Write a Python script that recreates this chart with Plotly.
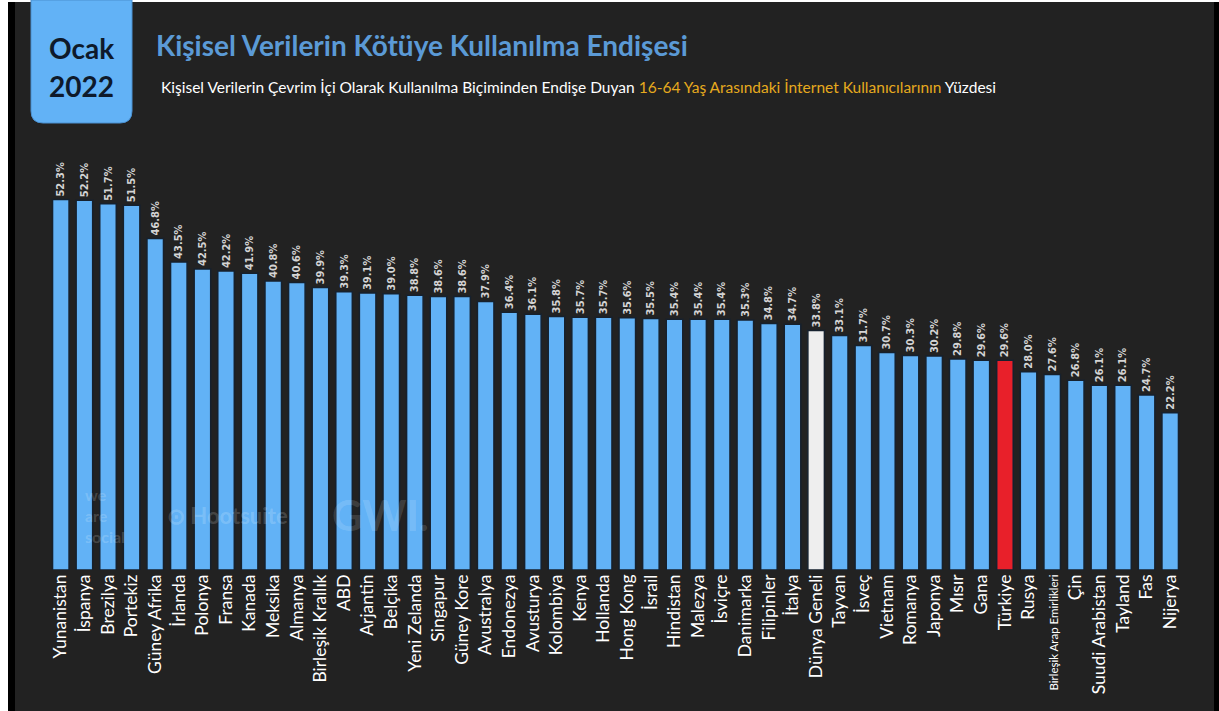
import plotly.graph_objects as go

countries = ["Yunanistan", "İspanya", "Brezilya", "Portekiz", "Güney Afrika", "İrlanda", "Polonya",
             "Fransa", "Kanada", "Meksika", "Almanya", "Birleşik Krallık", "ABD", "Arjantin", "Belçika",
             "Yeni Zelanda", "Singapur", "Güney Kore", "Avustralya", "Endonezya", "Avusturya", "Kolombiya",
             "Kenya", "Hollanda", "Hong Kong", "İsrail", "Hindistan", "Malezya", "İsviçre", "Danimarka",
             "Filipinler", "İtalya", "Dünya Geneli", "Tayvan", "İsveç", "Vietnam", "Romanya", "Japonya",
             "Mısır", "Gana", "Türkiye", "Rusya", "Birleşik Arap Emirlikleri", "Çin", "Suudi Arabistan",
             "Tayland", "Fas", "Nijerya"]
values = [52.3, 52.2, 51.7, 51.5, 46.8, 43.5, 42.5, 42.2, 41.9, 40.8, 40.6, 39.9, 39.3, 39.1, 39.0,
          38.8, 38.6, 38.6, 37.9, 36.4, 36.1, 35.8, 35.7, 35.7, 35.6, 35.5, 35.4, 35.4, 35.4, 35.3,
          34.8, 34.7, 33.8, 33.1, 31.7, 30.7, 30.3, 30.2, 29.8, 29.6, 29.6, 28.0, 27.6, 26.8, 26.1,
          26.1, 24.7, 22.2]
highlight = {"Dünya Geneli": "#eeeeee", "Türkiye": "#e8202a"}

BLUE = "#62b2f6"
BG = "#222222"
W, H = 1219, 711
ML, MR, MT, MB = 49, 37, 145, 141
PW, PH = W - ML - MR, H - MT - MB

def px2x(px):
    return (px - ML) / PW

def px2y(py):
    return (H - MB - py) / PH

colors = [highlight.get(c, BLUE) for c in countries]
idx = list(range(len(countries)))
ticktext = [c if c != "Birleşik Arap Emirlikleri" else
            "<span style='font-size:11.5px'>" + c + "</span>" for c in countries]

fig = go.Figure(go.Bar(
    x=idx, y=values,
    marker=dict(color=colors, line=dict(color="#16212e", width=1.5)),
    text=[f"{v:.1f}%" for v in values],
    textposition="outside", textangle=-90, constraintext="none",
    textfont=dict(family="DejaVu Sans Condensed, Liberation Sans Narrow, Arial Narrow", size=11,
                  color="#d4d4d4", weight="bold"),
    cliponaxis=False,
    width=0.7,
))

shapes = [
    dict(type="rect", xref="paper", yref="paper", x0=px2x(0), x1=px2x(8), y0=px2y(H), y1=px2y(0),
         fillcolor="#ffffff", line=dict(width=0), layer="below"),
    dict(type="rect", xref="paper", yref="paper", x0=px2x(8), x1=px2x(15), y0=px2y(H), y1=px2y(0),
         fillcolor="#000000", line=dict(width=0), layer="below"),
    dict(type="rect", xref="paper", yref="paper", x0=px2x(1214), x1=px2x(W), y0=px2y(H), y1=px2y(0),
         fillcolor="#000000", line=dict(width=0), layer="below"),
    dict(type="rect", xref="paper", yref="paper", x0=px2x(0), x1=px2x(W), y0=px2y(2), y1=px2y(0),
         fillcolor="#ffffff", line=dict(width=0), layer="below"),
]
# rounded box
bx0, bx1, by0, by1, r = 31, 132, 0, 123, 12
path = (f"M {px2x(bx0)},{px2y(by0)} L {px2x(bx0)},{px2y(by1 - r)} "
        f"Q {px2x(bx0)},{px2y(by1)} {px2x(bx0 + r)},{px2y(by1)} "
        f"L {px2x(bx1 - r)},{px2y(by1)} "
        f"Q {px2x(bx1)},{px2y(by1)} {px2x(bx1)},{px2y(by1 - r)} "
        f"L {px2x(bx1)},{px2y(by0)} Z")
shapes.append(dict(type="path", xref="paper", yref="paper", path=path, fillcolor=BLUE,
                   line=dict(color="#4a90d0", width=1), layer="below"))

annotations = [
    dict(text="<b>Ocak</b>", x=px2x(81), y=px2y(48), xref="paper", yref="paper", showarrow=False,
         font=dict(family="Lato, Open Sans", size=28, color="#0e1a2b"), xanchor="center", yanchor="middle"),
    dict(text="<b>2022</b>", x=px2x(81), y=px2y(86), xref="paper", yref="paper", showarrow=False,
         font=dict(family="Lato, Open Sans", size=28, color="#0e1a2b"), xanchor="center", yanchor="middle"),
    dict(text="<b>Kişisel Verilerin Kötüye Kullanılma Endişesi</b>", x=px2x(154), y=px2y(45),
         xref="paper", yref="paper", showarrow=False, xanchor="left", yanchor="middle",
         font=dict(family="Lato, Open Sans", size=28, color="#5b9ad6")),
    dict(text="Kişisel Verilerin Çevrim İçi Olarak Kullanılma Biçiminden Endişe Duyan "
              "<span style='color:#e6aa1e'>16-64 Yaş Arasındaki İnternet Kullanıcılarının</span> Yüzdesi",
         x=px2x(159), y=px2y(87), xref="paper", yref="paper", showarrow=False, xanchor="left",
         yanchor="middle", font=dict(family="Lato, Open Sans", size=15.5, color="#ffffff")),
    # watermarks
    dict(text="we<br>are<br>social", x=px2x(83), y=px2y(515), xref="paper", yref="paper", showarrow=False,
         xanchor="left", yanchor="middle", align="left",
         font=dict(family="Lato", size=16, color="rgba(255,255,255,0.18)", weight="bold")),
    dict(text="⊙ Hootsuite", x=px2x(165), y=px2y(515), xref="paper", yref="paper", showarrow=False,
         xanchor="left", yanchor="middle",
         font=dict(family="Lato", size=22, color="rgba(255,255,255,0.18)", weight="bold")),
    dict(text="GWI.", x=px2x(330), y=px2y(515), xref="paper", yref="paper", showarrow=False,
         xanchor="left", yanchor="middle",
         font=dict(family="Lato", size=42, color="rgba(255,255,255,0.15)", weight="bold")),
]

fig.update_layout(
    width=W, height=H,
    margin=dict(l=ML, r=MR, t=MT, b=MB, pad=0),
    paper_bgcolor=BG, plot_bgcolor=BG,
    showlegend=False,
    bargap=0.3,
    shapes=shapes,
    annotations=annotations,
    xaxis=dict(tickmode="array", tickvals=idx, ticktext=ticktext, tickangle=-90,
               range=[-0.5, len(countries) - 0.5], showgrid=False, zeroline=False, showline=False,
               ticks="", tickfont=dict(family="Lato, Open Sans", size=17.5, color="#ffffff")),
    yaxis=dict(range=[0, 60], visible=False, showgrid=False, zeroline=False),
)

fig.write_html("out.html", config={"displayModeBar": False},
               post_script="document.body.style.margin='0';document.body.style.overflow='hidden';")
